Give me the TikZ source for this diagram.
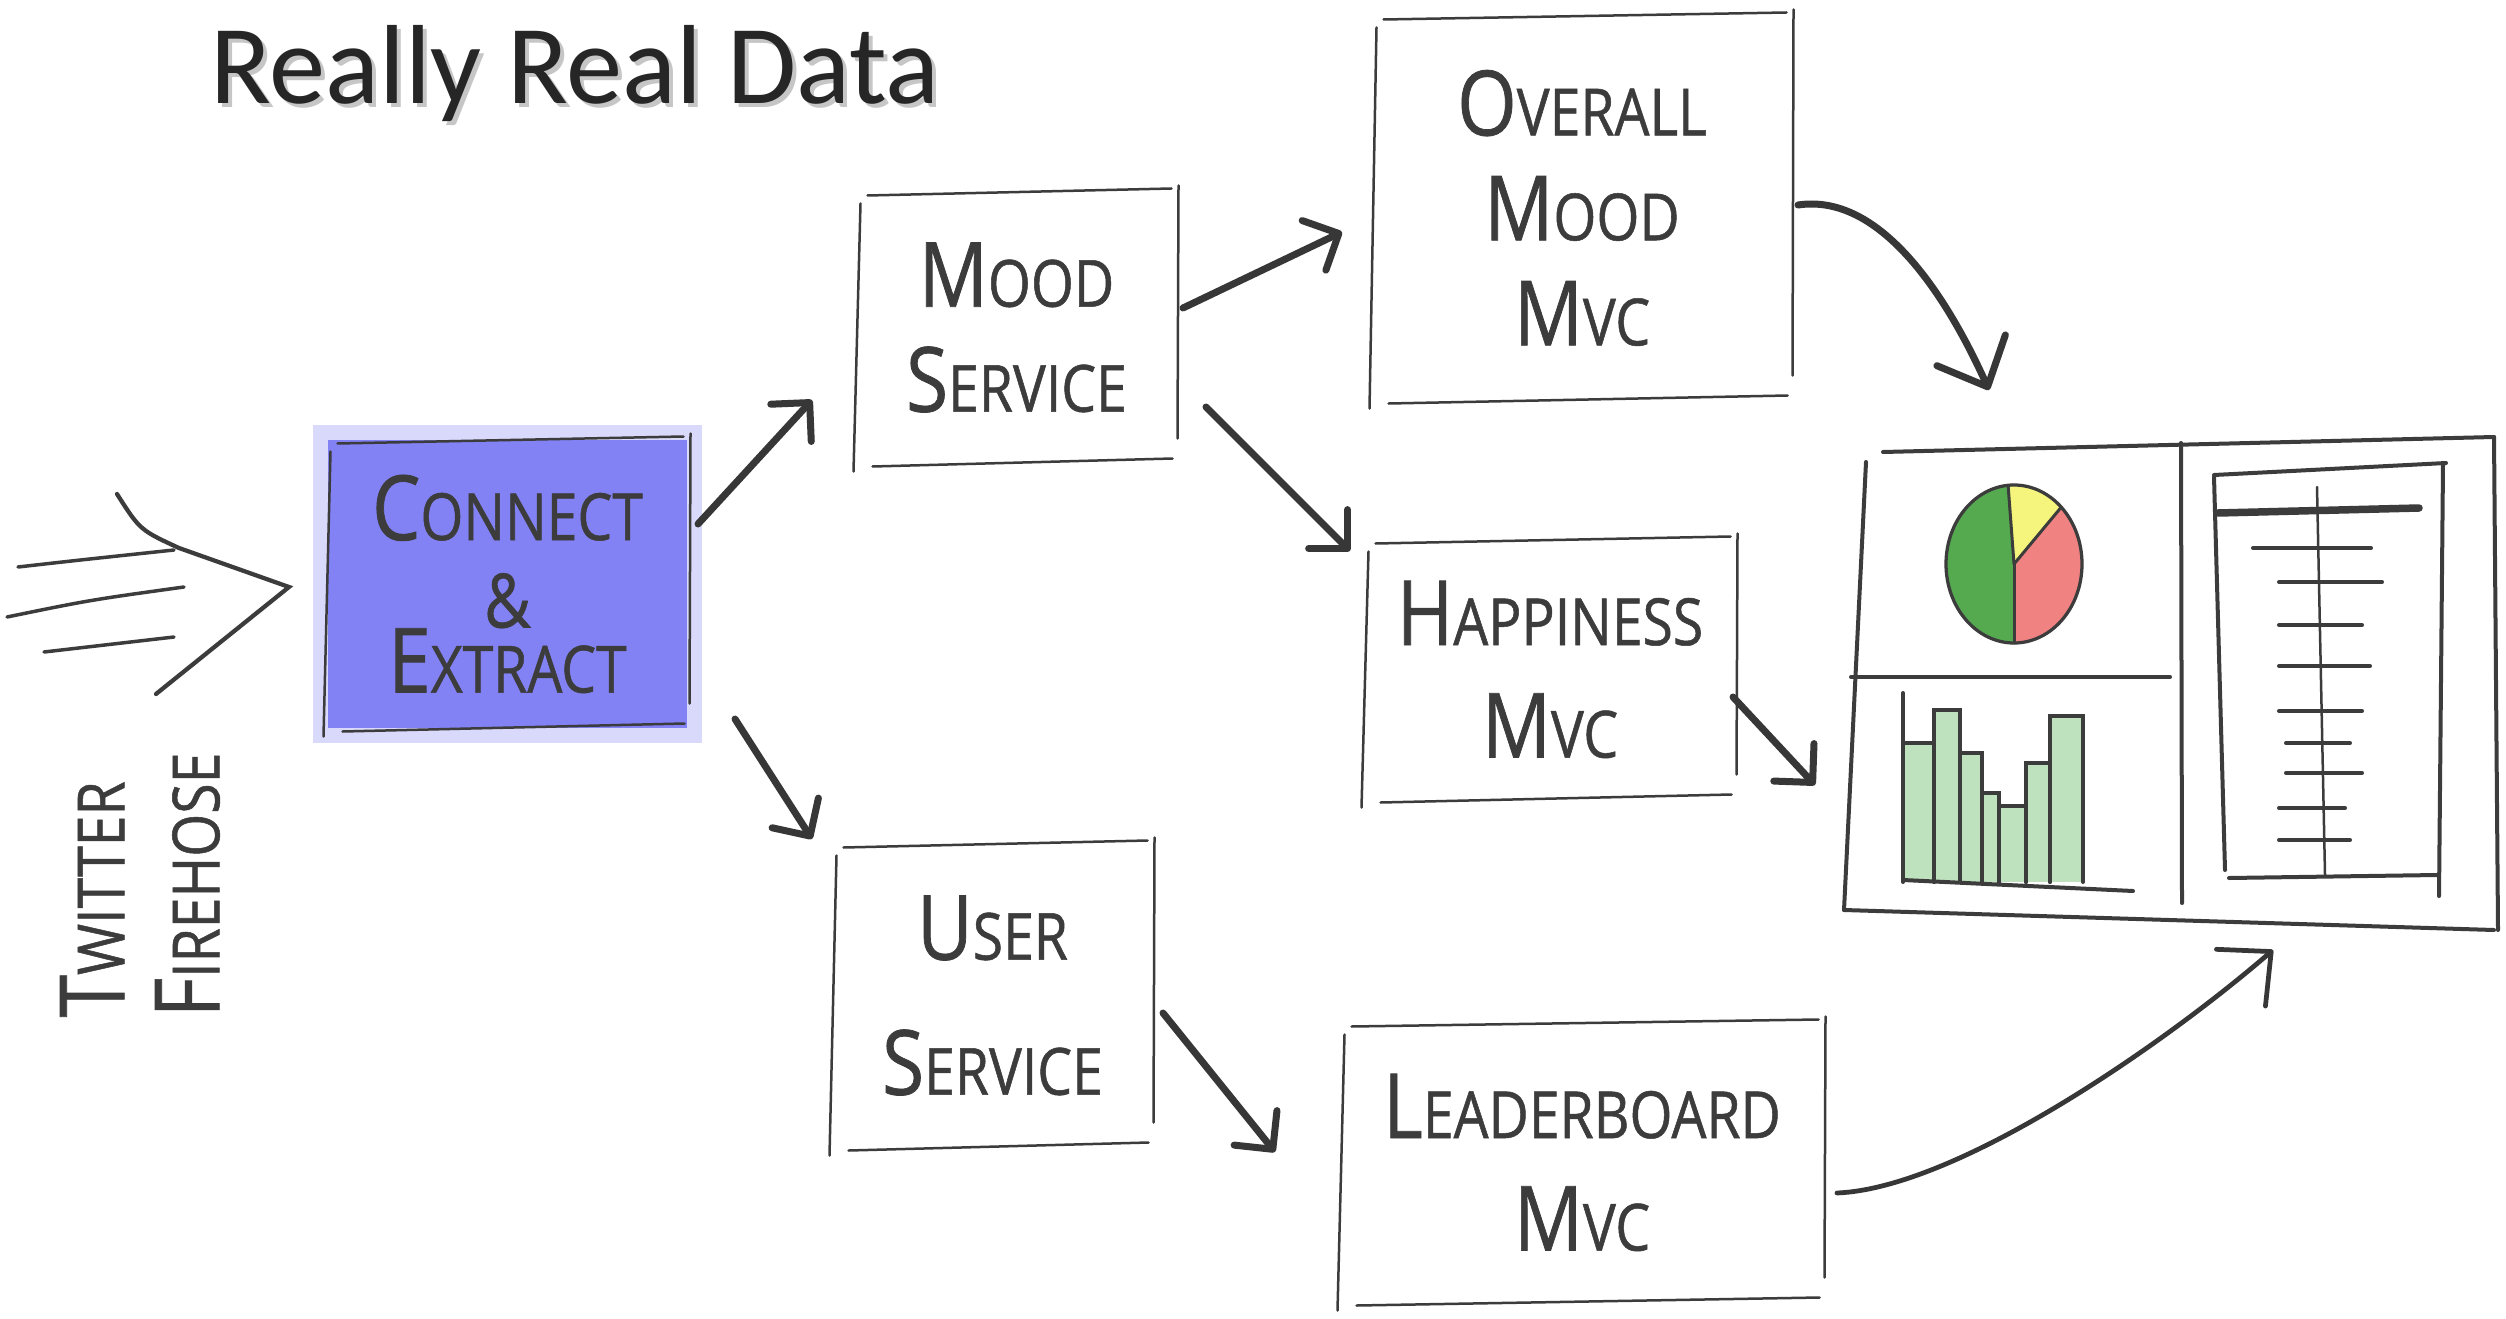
\documentclass[tikz,border=0pt]{standalone}
\usepackage{fontspec}
\usetikzlibrary{arrows.meta,calc}
\newfontfamily\hand[FakeStretch=0.85,FakeBold=0.8]{Open Sans}
\newfontfamily\titlefont{Carlito}
\newcommand\hcap[2]{{\fontsize{36}{42}\selectfont #1}{\fontsize{26}{42}\selectfont #2}}
\definecolor{ink}{RGB}{60,60,60}
\definecolor{arrink}{RGB}{55,55,55}
\definecolor{cblue}{RGB}{130,130,245}
\definecolor{pgreen}{RGB}{85,170,80}
\definecolor{pyellow}{RGB}{245,245,125}
\definecolor{pred}{RGB}{240,130,130}
\definecolor{bgreen}{RGB}{190,225,190}
\definecolor{titlec}{RGB}{38,38,38}
\newcommand\skbox[1]{%
  \draw[boxln] ([shift={(10,4)}]#1.north west) -- ([shift={(-4,-3)}]#1.north east);
  \draw[boxln] ([shift={(3,-6)}]#1.north east) -- ([shift={(2,-25)}]#1.south east);
  \draw[boxln] ([shift={(-3,-5)}]#1.south east) -- ([shift={(15,3)}]#1.south west);
  \draw[boxln] ([shift={(-4,8)}]#1.south west) -- ([shift={(3,12)}]#1.north west);
}
\begin{document}
\begin{tikzpicture}[x=0.4pt,y=-0.4pt,
  box/.style={draw=none, inner sep=0pt, align=center, text=ink, font=\hand\fontsize{26}{42}\selectfont},
  boxln/.style={draw=ink, line width=1pt, line cap=round},
  arr/.style={draw=arrink, line width=2.8pt, line cap=round, -{Straight Barb[length=11pt,width=22pt,round]}},
  bigarr/.style={draw=arrink, line width=2.8pt, line cap=round, -{Straight Barb[length=16pt,width=30pt,round]}},
  dl/.style={draw=ink, line width=1.6pt, line cap=round},
  thinln/.style={draw=ink, line width=1pt, line cap=round}]

\useasboundingbox (0,0) rectangle (2506,1319);
\fill[white] (0,0) rectangle (2506,1319);

% title
\node[font=\titlefont\fontsize{45}{50}\selectfont, text=gray!45, anchor=base] (ttlsh) at (579,108) {Really Real Data};
\node[font=\titlefont\fontsize{45}{50}\selectfont, text=titlec, anchor=base] (ttl) at (575,104) {Really Real Data};

% boxes
\node[box, minimum width=143.6pt, minimum height=115.2pt, fill=cblue,
      preaction={draw=cblue, line width=12pt, draw opacity=0.3}] (conn) at (507.5,584)
  {\hcap{C}{ONNECT}\\[-7pt]{\fontsize{30}{42}\selectfont\&}\\[-16pt]\hcap{E}{XTRACT}};
\skbox{conn}

\node[box, minimum width=126.8pt, minimum height=108.4pt] (msvc) at (1016.5,327.5)
  {\hcap{M}{OOD}\\\hcap{S}{ERVICE}};
\skbox{msvc}

\node[box, minimum width=126.8pt, minimum height=121.2pt] (usvc) at (992.5,995.5)
  {\hcap{U}{SER}\\[12pt]\hcap{S}{ERVICE}};
\skbox{usvc}

\node[box, minimum width=166.4pt, minimum height=153.6pt] (omvc) at (1582,208)
  {\hcap{O}{VERALL}\\\hcap{M}{OOD}\\\hcap{M}{VC}};
\skbox{omvc}

\node[box, minimum width=147.2pt, minimum height=103.6pt] (hmvc) at (1550,669.5)
  {\hcap{H}{APPINESS}\\[3pt]\hcap{M}{VC}};
\skbox{hmvc}

\node[box, minimum width=192pt, minimum height=111.6pt] (lmvc) at (1582,1162.5)
  {\hcap{L}{EADERBOARD}\\[3pt]\hcap{M}{VC}};
\skbox{lmvc}

\node[draw=none, inner sep=0pt, minimum width=260.8pt, minimum height=196pt] (dash) at (2172,685) {};

% twitter firehose
\node[box, rotate=90, align=left] (tw) at (140,885) {\hcap{T}{WITTER}\\[-4pt]\hcap{F}{IREHOSE}};
\draw[thinln, line width=1.4pt] (18,567) .. controls (80,560) .. (174,550);
\draw[thinln, line width=1.4pt] (7,617) .. controls (90,600) .. (184,587);
\draw[thinln, line width=1.4pt] (44,652) -- (174,637);
\draw[thinln, line width=1.7pt] (117,494) .. controls (140,530) .. (179,548) -- (289,587) -- (156,694);

% arrows
\draw[arr] ([shift={(190.5,-60)}]conn.center) -- ([shift={(-204.5,72.5)}]msvc.center);
\draw[arr] ([shift={(227.5,135)}]conn.center) -- ([shift={(-180.5,-156.5)}]usvc.center);
\draw[arr] ([shift={(166.5,-19.5)}]msvc.center) -- ([shift={(-240,24)}]omvc.center);
\draw[arr] ([shift={(189.5,79.5)}]msvc.center) -- ([shift={(-200,-118.5)}]hmvc.center);
\draw[arr] ([shift={(170.5,17.5)}]usvc.center) -- ([shift={(-307,-10.5)}]lmvc.center);
\draw[arr] ([shift={(183,27.5)}]hmvc.center) -- ([shift={(-357,100)}]dash.center);
\draw[bigarr] ([shift={(216,-3)}]omvc.center) .. controls +(80,-12) and +(-45,-100) .. ([shift={(-183,-295)}]dash.center);
\draw[bigarr, line width=1.9pt] ([shift={(255,30.5)}]lmvc.center) .. controls +(120,-5) and +(-110,95) .. ([shift={(101,265)}]dash.center);

% dashboard frame
\draw[dl] (1883,452) -- (2494,437);
\draw[dl] (2494,437) -- (2498,930);
\draw[dl] (1844,910) -- (2494,930);
\draw[dl] (1866,462) -- (1844,910);
\draw[dl] (2181,443) -- (2182,903);
\draw[dl] (1851,677) -- (2170,677);

% pie
\coordinate (pc) at (2014,564);
\fill[pgreen] (pc) -- ++(-95:68 and 79) arc[start angle=-95,end angle=-270,x radius=68,y radius=79] -- cycle;
\fill[pyellow] (pc) -- ++(-46:68 and 79) arc[start angle=-46,end angle=-95,x radius=68,y radius=79] -- cycle;
\fill[pred] (pc) -- ++(90:68 and 79) arc[start angle=90,end angle=-46,x radius=68,y radius=79] -- cycle;
\draw[thinln, line width=1.3pt] (pc) ellipse[x radius=68, y radius=79];
\draw[thinln, line width=1.2pt] (pc) -- ++(-95:68 and 79);
\draw[thinln, line width=1.2pt] (pc) -- ++(-46:68 and 79);
\draw[thinln, line width=1.2pt] (pc) -- ++(90:68 and 79);

% bar chart
\foreach \a/\b/\t in {1903/1934/743, 1934/1960/710, 1960/1982/753, 1982/1999/793, 1999/2026/806, 2026/2050/763, 2050/2083/716} {
  \fill[bgreen] (\a,\t) rectangle (\b,882);
  \draw[dl] (\a,882) -- (\a,\t) -- (\b,\t) -- (\b,882);
}
\draw[dl] (1903,693) -- (1903,880);
\draw[dl] (1903,880) -- (2133,891);

% leaderboard panel
\draw[dl] (2214,475) -- (2446,463);
\draw[dl] (2214,477) -- (2225,870);
\draw[dl] (2443,463) -- (2439,896);
\draw[dl] (2229,878) -- (2437,875);
\draw[dl, line width=3pt] (2218,513) -- (2419,508);
\draw[thinln] (2317,487) -- (2325,875);
\foreach \y/\a/\b in {548/2253/2371, 582/2279/2382, 625/2279/2362, 666/2279/2370, 711/2279/2362, 743/2286/2350, 773/2286/2362, 808/2279/2345, 840/2279/2350}
  \draw[dl] (\a,\y) -- (\b,\y);
\end{tikzpicture}
\end{document}
